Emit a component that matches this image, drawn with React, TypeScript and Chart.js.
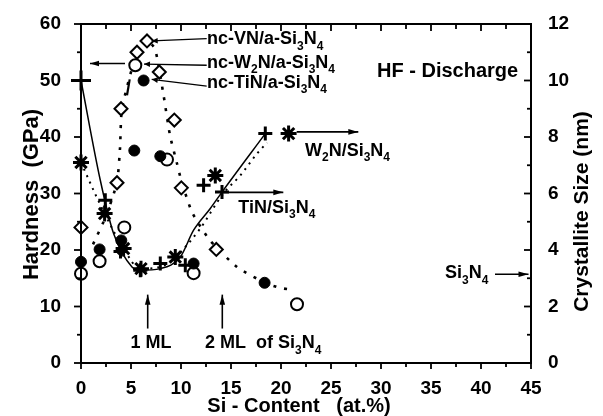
import { useEffect, useRef } from "react";
import { Chart, registerables } from "chart.js";
Chart.register(...registerables);

const FONT = "'Liberation Sans', Arial, Helvetica, sans-serif";

// ---- Hardness (left axis, GPa) ----
const tinHx = [0, 1.86, 4.03, 5.33, 6.26, 7.93, 11.26, 18.36];
const tinH = [17.9, 20.1, 21.7, 37.6, 50.0, 36.6, 17.6, 14.2];
const w2nHx = [0, 1.86, 4.33, 5.43, 8.6, 11.26, 21.6];
const w2nH = [15.8, 18.0, 24.0, 52.7, 36.0, 15.9, 10.4];
const vnHx = [0, 3.6, 4.0, 5.6, 6.6, 7.83, 9.33, 10.03, 13.53];
const vnH = [24.0, 31.9, 45.0, 55.0, 57.0, 51.5, 43.0, 31.0, 20.1];
// dotted hardness trend
const trendHx = [1.2, 2.5, 3.6, 3.9, 4.1, 5.6, 6.6, 7.4, 8.2, 8.9, 9.6, 10.0, 11.1, 12.9, 15.6, 18.4, 19.9, 21.3];
const trendH = [21, 26, 32, 38, 45, 55, 57, 55.6, 48, 40.3, 35.3, 32.5, 26.7, 21.7, 17, 14.2, 13.3, 12.9];
// short dash-dot piece
const dashHx = [4.6, 4.87];
const dashH = [47.4, 50.2];

// ---- Crystallite size (right axis, nm) ----
const tinSx = [0, 2.43, 3.95, 5.93, 7.93, 10.43, 12.26, 14.1, 18.43];
const tinS = [10.0, 5.76, 3.95, 3.28, 3.52, 3.46, 6.29, 6.05, 8.12];
const w2nSx = [0, 2.36, 4.26, 6.0, 9.43, 13.43, 20.76];
const w2nS = [7.1, 5.29, 4.05, 3.34, 3.75, 6.64, 8.12];
const tinFitX = [0, 1.93, 3.26, 5.1, 5.93, 7.93, 9.93, 11.26, 12.93, 14.1, 18.43];
const tinFit = [10.0, 6.47, 4.58, 3.4, 3.28, 3.34, 3.75, 4.7, 5.47, 6.05, 8.12];
const w2nFitX = [0, 1.4, 2.36, 4.26, 5.93, 7.93, 9.43, 11.8, 14.23, 15.93, 17.6, 18.6];
const w2nFit = [7.1, 6.0, 5.29, 4.05, 3.34, 3.4, 3.75, 4.7, 6.0, 6.64, 7.41, 7.8];

const xTitle = "Si - Content   (at.%)";
const yTitle = "Hardness  (GPa)";
const y2Title = "Crystallite Size (nm)";

const pts = (xs: number[], ys: number[]) => xs.map((x, i) => ({ x, y: ys[i] }));

type Part = [string, boolean?];

function drawRich(ctx: CanvasRenderingContext2D, parts: Part[], x: number, y: number, size: number, align = "left") {
  const main = `bold ${size}px ${FONT}`;
  const sub = `bold ${Math.round(size * 0.66)}px ${FONT}`;
  let total = 0;
  for (const [t, s] of parts) {
    ctx.font = s ? sub : main;
    total += ctx.measureText(t).width;
  }
  let cx = align === "center" ? x - total / 2 : x;
  ctx.textBaseline = "middle";
  ctx.textAlign = "left";
  ctx.fillStyle = "#000";
  for (const [t, s] of parts) {
    ctx.font = s ? sub : main;
    ctx.fillText(t, cx, s ? y + size * 0.4 : y);
    cx += ctx.measureText(t).width;
  }
}

function seg(ctx: CanvasRenderingContext2D, x1: number, y1: number, x2: number, y2: number, lw: number) {
  ctx.setLineDash([]);
  ctx.strokeStyle = "#000";
  ctx.lineWidth = lw;
  ctx.beginPath();
  ctx.moveTo(x1, y1);
  ctx.lineTo(x2, y2);
  ctx.stroke();
}

function arrow(ctx: CanvasRenderingContext2D, x1: number, y1: number, x2: number, y2: number, head = 9, lw = 1.5) {
  seg(ctx, x1, y1, x2, y2, lw);
  if (head > 0) {
    const ang = Math.atan2(y2 - y1, x2 - x1);
    ctx.fillStyle = "#000";
    ctx.beginPath();
    ctx.moveTo(x2, y2);
    ctx.lineTo(x2 - head * Math.cos(ang) + 2.8 * Math.sin(ang), y2 - head * Math.sin(ang) - 2.8 * Math.cos(ang));
    ctx.lineTo(x2 - head * Math.cos(ang) - 2.8 * Math.sin(ang), y2 - head * Math.sin(ang) + 2.8 * Math.cos(ang));
    ctx.closePath();
    ctx.fill();
  }
}

function rotText(ctx: CanvasRenderingContext2D, text: string, x: number, y: number, size: number) {
  ctx.save();
  ctx.translate(x, y);
  ctx.rotate(-Math.PI / 2);
  ctx.font = `bold ${size}px ${FONT}`;
  ctx.fillStyle = "#000";
  ctx.textAlign = "center";
  ctx.textBaseline = "middle";
  ctx.fillText(text, 0, 0);
  ctx.restore();
}

const sub3N4: Part[] = [["Si"], ["3", true], ["N"], ["4", true]];

const decor = {
  id: "decor",
  afterDraw(chart: any) {
    const ctx: CanvasRenderingContext2D = chart.ctx;
    const xs = chart.scales.x, ys = chart.scales.y, ys2 = chart.scales.y2;
    const X = (v: number) => xs.getPixelForValue(v);
    const Y = (v: number) => ys.getPixelForValue(v);
    const Y2 = (v: number) => ys2.getPixelForValue(v);
    const L0 = X(0), R0 = X(45), T0 = Y(60), B0 = Y(0);
    ctx.save();
    // frame
    ctx.setLineDash([]);
    ctx.lineWidth = 2;
    ctx.strokeStyle = "#000";
    ctx.strokeRect(L0, T0, R0 - L0, B0 - T0);
    // ticks
    for (let i = 0; i <= 18; i++) {
      const px = X(i * 2.5);
      const len = i % 2 === 0 ? 6 : 4;
      seg(ctx, px, B0, px, B0 + len, 1.8);
      seg(ctx, px, T0, px, T0 + len + 1, 1.8);
    }
    for (let i = 0; i <= 12; i++) {
      const len = i % 2 === 0 ? 7 : 4;
      seg(ctx, L0, Y(i * 5), L0 - len, Y(i * 5), 1.8);
      seg(ctx, R0, Y2(i), R0 - len, Y2(i), 1.8);
    }

    // axis titles
    rotText(ctx, yTitle, L0 - 49, (T0 + B0) / 2 + 1, 22);
    rotText(ctx, y2Title, R0 + 51, (T0 + B0) / 2 + 18, 21);
    ctx.font = `bold 20px ${FONT}`;
    ctx.fillStyle = "#000";
    ctx.textAlign = "center";
    ctx.textBaseline = "middle";
    ctx.fillText(xTitle, (L0 + R0) / 2 - 7, B0 + 43);

    const fs = 18;
    // leaders to series labels
    arrow(ctx, X(12.57), Y(57.4), X(7.07), Y(57.0), 6, 1.3);
    arrow(ctx, X(12.57), Y(52.7), X(6.3), Y(52.9), 6, 1.3);
    arrow(ctx, X(12.57), Y(49.0), X(7.07), Y(50.2), 6, 1.3);
    arrow(ctx, X(4.4), Y(53.0), X(0.9), Y(53.0), 9, 1.5);
    drawRich(ctx, [["nc-VN/a-Si"], ["3", true], ["N"], ["4", true]], X(12.6), Y(57.3), fs);
    drawRich(ctx, [["nc-W"], ["2", true], ["N/a-Si"], ["3", true], ["N"], ["4", true]], X(12.6), Y(53.1), fs);
    drawRich(ctx, [["nc-TiN/a-Si"], ["3", true], ["N"], ["4", true]], X(12.6), Y(49.6), fs);
    drawRich(ctx, [["HF - Discharge"]], X(29.6), Y(51.6), 20);

    // size arrows
    arrow(ctx, X(21.57), Y(40.9), X(27.73), Y(40.9), 10, 1.6);
    drawRich(ctx, [["W"], ["2", true], ["N/Si"], ["3", true], ["N"], ["4", true]], X(22.4), Y(37.6), fs);
    arrow(ctx, X(14.23), Y(30.2), X(20.23), Y(30.2), 10, 1.6);
    drawRich(ctx, [["TiN/"], ...sub3N4], X(15.73), Y(27.5), fs);
    drawRich(ctx, sub3N4, X(36.4), Y(15.9), fs);
    arrow(ctx, X(41.4), Y(15.7), X(44.75), Y(15.7), 10, 1.6);

    // monolayer arrows
    arrow(ctx, X(6.67), Y(6.1), X(6.67), Y(12.1), 10, 1.6);
    arrow(ctx, X(14.13), Y(6.1), X(14.13), Y(12.1), 10, 1.6);
    drawRich(ctx, [["1 ML"]], X(7.0), Y(3.5), fs, "center");
    drawRich(ctx, [["2 ML  of "], ...sub3N4], X(12.4), Y(3.5), fs);

    // frame again on top
    ctx.setLineDash([]);
    ctx.lineWidth = 2;
    ctx.strokeStyle = "#000";
    ctx.strokeRect(L0, T0, R0 - L0, B0 - T0);
    ctx.restore();
  },
};

export default function App() {
  const ref = useRef<HTMLCanvasElement>(null);
  useEffect(() => {
    const tickFont = { size: 19, weight: "bold" as const, family: FONT };
    const chart = new Chart(ref.current!, {
      type: "scatter",
      data: {
        datasets: [
          { label: "nc-TiN H", data: pts(tinHx, tinH), yAxisID: "y", clip: false, pointStyle: "circle", pointRadius: 5.5, backgroundColor: "#000", borderColor: "#000", borderWidth: 1 },
          { label: "nc-W2N H", data: pts(w2nHx, w2nH), yAxisID: "y", clip: false, pointStyle: "circle", pointRadius: 6, backgroundColor: "#fff", borderColor: "#000", borderWidth: 2 },
          { label: "nc-VN H", data: pts(vnHx, vnH), yAxisID: "y", clip: false, pointStyle: "rectRot", pointRadius: 6.5, backgroundColor: "#fff", borderColor: "#000", borderWidth: 2 },
          { label: "W2N size", data: pts(w2nSx, w2nS), yAxisID: "y2", clip: false, pointStyle: "star", pointRadius: 8, borderColor: "#000", borderWidth: 3 },
          { label: "TiN size", data: pts(tinSx, tinS), yAxisID: "y2", clip: false, pointStyle: "cross", pointRadius: (c: any) => (c.dataIndex === 0 ? 10 : 7), borderColor: "#000", borderWidth: 3 },
          { label: "TiN fit", data: pts(tinFitX, tinFit), yAxisID: "y2", showLine: true, pointRadius: 0, borderColor: "#000", borderWidth: 1.5, cubicInterpolationMode: "monotone" },
          { label: "W2N fit", data: pts(w2nFitX, w2nFit), yAxisID: "y2", showLine: true, pointRadius: 0, borderColor: "#000", borderWidth: 2, borderDash: [2, 5], cubicInterpolationMode: "monotone" },
          { label: "H trend", data: pts(trendHx, trendH), yAxisID: "y", showLine: true, pointRadius: 0, borderColor: "#000", borderWidth: 2.6, borderDash: [3, 8], tension: 0.2 },
          { label: "dash", data: pts(dashHx, dashH), yAxisID: "y", showLine: true, pointRadius: 0, borderColor: "#000", borderWidth: 2.2 },
        ] as any,
      },
      options: {
        animation: false,
        responsive: false,
        devicePixelRatio: 1,
        layout: { padding: { top: 24 } },
        plugins: { legend: { display: false }, tooltip: { enabled: false } },
        scales: {
          x: {
            type: "linear", min: 0, max: 45, position: "bottom",
            ticks: { stepSize: 5, font: tickFont, color: "#000", padding: 6 },
            grid: { display: false }, border: { display: true, color: "#000", width: 2 },
            afterFit: (s: any) => { s.height = 53; },
          },
          y: {
            type: "linear", min: 0, max: 60, position: "left",
            ticks: { stepSize: 10, font: tickFont, color: "#000", padding: 12 },
            grid: { display: false }, border: { display: true, color: "#000", width: 2 },
            afterFit: (s: any) => { s.width = 81; },
          },
          y2: {
            type: "linear", min: 0, max: 12, position: "right",
            ticks: { stepSize: 2, font: tickFont, color: "#000", padding: 9 },
            grid: { display: false }, border: { display: true, color: "#000", width: 2 },
            afterFit: (s: any) => { s.width = 72; },
          },
        },
      },
      plugins: [decor],
    } as any);
    return () => chart.destroy();
  }, []);
  return (
    <div style={{ position: "fixed", left: 0, top: 0, width: 603, height: 416, background: "#fff" }}>
      <canvas ref={ref} width={603} height={416} />
    </div>
  );
}
